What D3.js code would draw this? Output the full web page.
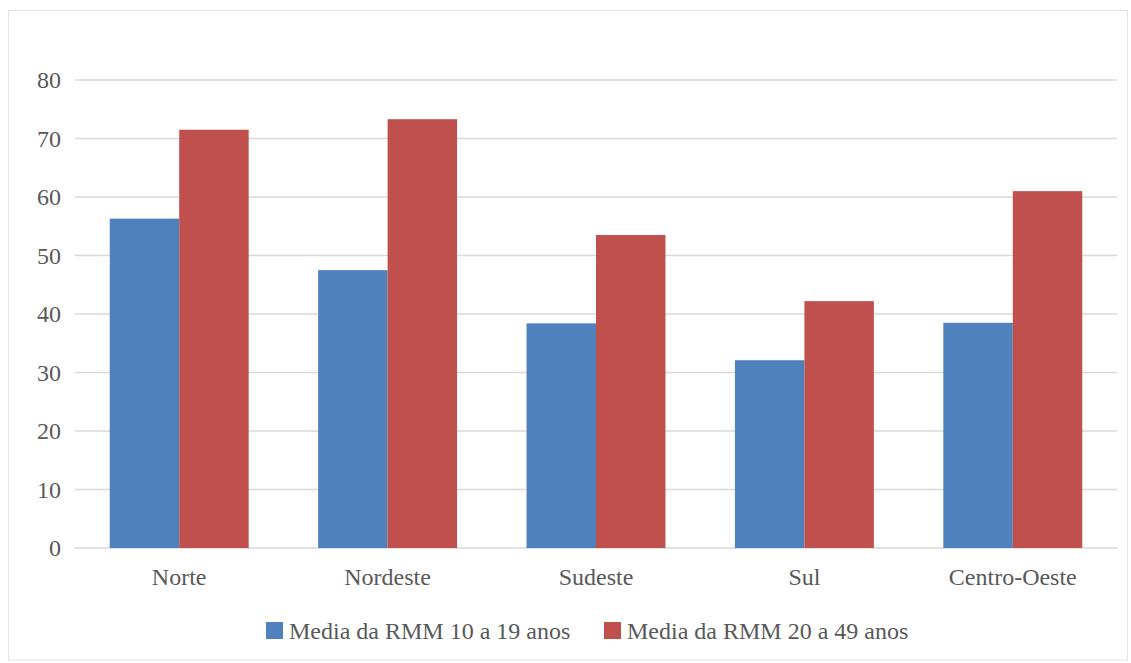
<!DOCTYPE html>
<html>
<head>
<meta charset="utf-8">
<script src="https://cdn.jsdelivr.net/npm/d3@7"></script>
<style>
  html, body { margin: 0; padding: 0; background: #ffffff; }
  svg { display: block; }
  text { font-family: "Liberation Serif", "DejaVu Serif", serif; fill: #595959; }
</style>
</head>
<body>
<svg id="chart" width="1131" height="663"></svg>
<script>
// Regions and the two averaged series
const regions = ["Norte", "Nordeste", "Sudeste", "Sul", "Centro-Oeste"];
const seriesNames = ["Media da RMM 10 a 19 anos", "Media da RMM 20 a 49 anos"];
const rmm10a19 = [56.3, 47.5, 38.4, 32.1, 38.5];
const rmm20a49 = [71.5, 73.3, 53.5, 42.2, 61.0];
const yTicks = [0, 10, 20, 30, 40, 50, 60, 70, 80];
const colors = ["#4F81BD", "#C0504D"];

const svg = d3.select("#chart");
const W = 1131, H = 663;
const plot = { left: 75, right: 1117, top: 80, bottom: 548 };

// Outer chart frame
svg.append("rect")
  .attr("x", 8.5).attr("y", 10.5)
  .attr("width", 1119).attr("height", 649.5)
  .attr("fill", "#ffffff")
  .attr("stroke", "#e3e3e3")
  .attr("stroke-width", 1);

const x0 = d3.scaleBand()
  .domain(regions)
  .range([plot.left, plot.right])
  .paddingInner(1 / 3)
  .paddingOuter(1 / 6);

const x1 = d3.scaleBand()
  .domain([0, 1])
  .range([0, x0.bandwidth()]);

const y = d3.scaleLinear()
  .domain([0, 80])
  .range([plot.bottom, plot.top]);

// Horizontal gridlines
svg.append("g")
  .selectAll("line")
  .data(yTicks)
  .join("line")
  .attr("x1", plot.left).attr("x2", plot.right)
  .attr("y1", d => y(d)).attr("y2", d => y(d))
  .attr("stroke", "#d9d9d9")
  .attr("stroke-width", 1.5);

// Y axis labels
const yAxis = d3.axisLeft(y).tickValues(yTicks).tickSize(0).tickPadding(14);
const gy = svg.append("g")
  .attr("transform", `translate(${plot.left},0)`)
  .call(yAxis);
gy.select(".domain").remove();
gy.selectAll("text")
  .attr("font-size", 24)
  .attr("font-family", "Liberation Serif, DejaVu Serif, serif")
  .attr("fill", "#595959");

// Bars
const rows = regions.map((r, i) => ({ region: r, values: [rmm10a19[i], rmm20a49[i]] }));
const groups = svg.append("g")
  .selectAll("g")
  .data(rows)
  .join("g")
  .attr("transform", d => `translate(${x0(d.region)},0)`);

groups.selectAll("rect")
  .data(d => d.values.map((v, k) => ({ k, v })))
  .join("rect")
  .attr("x", d => x1(d.k))
  .attr("width", x1.bandwidth())
  .attr("y", d => y(d.v))
  .attr("height", d => y(0) - y(d.v))
  .attr("fill", d => colors[d.k]);

// Category labels
const xAxis = d3.axisBottom(x0).tickSize(0).tickPadding(20);
const gx = svg.append("g")
  .attr("transform", `translate(0,${plot.bottom})`)
  .call(xAxis);
gx.select(".domain").remove();
gx.selectAll("text")
  .attr("font-size", 24)
  .attr("font-family", "Liberation Serif, DejaVu Serif, serif")
  .attr("fill", "#595959");

// Legend
const legendItems = [
  { name: seriesNames[0], color: colors[0], x: 266 },
  { name: seriesNames[1], color: colors[1], x: 604 }
];
const lg = svg.append("g");
legendItems.forEach(it => {
  lg.append("rect")
    .attr("x", it.x).attr("y", 622)
    .attr("width", 17).attr("height", 17)
    .attr("fill", it.color);
  lg.append("text")
    .attr("x", it.x + 23).attr("y", 639)
    .attr("font-size", 24)
    .text(it.name);
});
</script>
</body>
</html>
